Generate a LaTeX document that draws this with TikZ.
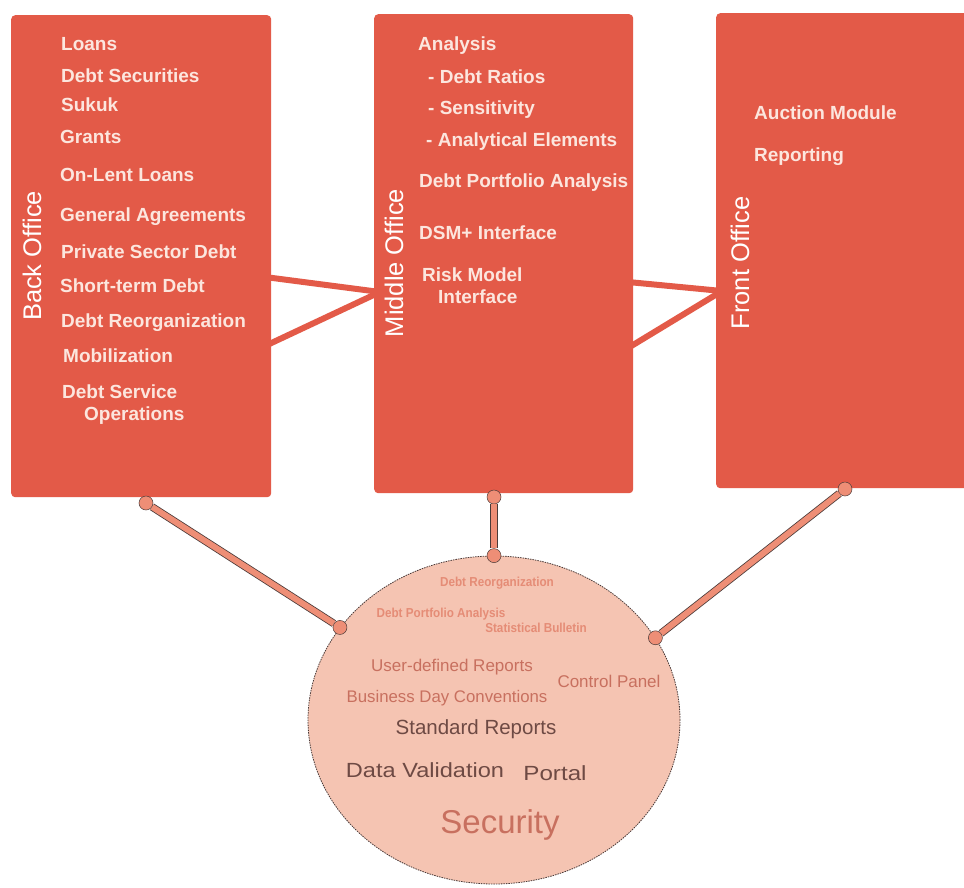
\documentclass[tikz,border=0pt]{standalone}
\usepackage{fontspec}
\setmainfont{Liberation Sans}
\usetikzlibrary{shapes.geometric}
\pgfdeclarelayer{background}
\pgfsetlayers{background,main}
\definecolor{boxred}{HTML}{E35A48}
\definecolor{boxtext}{HTML}{FCE6DE}
\definecolor{hubfill}{HTML}{F5C4B2}
\definecolor{linksalmon}{HTML}{EE8E76}
\definecolor{edgegray}{HTML}{4A3A38}
\definecolor{palesal}{HTML}{E58C76}
\definecolor{medsal}{HTML}{C8705F}
\definecolor{darkbr}{HTML}{6E4A44}
\begin{document}
\begin{tikzpicture}[x=1pt,y=-1pt,
  office/.style={draw=none, fill=boxred, rounded corners=4pt, anchor=north west, inner sep=0pt},
  item/.style={anchor=base west, inner sep=0pt, text=boxtext, font=\fontsize{19}{21}\selectfont\bfseries},
  sidelabel/.style={rotate=90, inner sep=0pt, text=white, font=\fontsize{25.5}{28}\selectfont},
  link/.style={draw=boxred, line width=6pt},
  spoke/.style={draw=edgegray, line width=0.8pt, double=linksalmon, double distance=6pt},
  enddot/.style={circle, fill=linksalmon, draw=edgegray, line width=0.5pt, minimum size=14pt, inner sep=0pt},
  hubtext/.style={inner sep=0pt, anchor=center},
]
\begin{pgfonlayer}{background}
\fill[white] (0,0) rectangle (964,887);
\end{pgfonlayer}
\useasboundingbox (0,0) rectangle (964,887);

% offices
\node[office, minimum width=260pt, minimum height=482pt] (back) at (11,15) {};
\node[office, minimum width=259pt, minimum height=479pt] (middle) at (374,14) {};
\node[office, minimum width=260pt, minimum height=475pt] (front) at (716,13) {};

% links between offices
\coordinate (b1) at (265,277);
\coordinate (b2) at (265,346);
\coordinate (m0) at (380,292);
\coordinate (m1) at (628,282);
\coordinate (m2) at (628,348);
\coordinate (f0) at (722,291);
\begin{pgfonlayer}{background}
\draw[link] (b1) -- (m0);
\draw[link] (b2) -- (m0);
\draw[link] (m1) -- (f0);
\draw[link] (m2) -- (f0);
\end{pgfonlayer}

% side labels
\node[sidelabel] (backlbl) at (32,256) {Back Office};
\node[sidelabel] (midlbl) at (394,263) {Middle Office};
\node[sidelabel] (frontlbl) at (740,263) {Front Office};

% back office items
\node[item] (b-loans) at (61,50) {Loans};
\node[item] (b-debtsec) at (61,82) {Debt Securities};
\node[item] (b-sukuk) at (61,111) {Sukuk};
\node[item] (b-grants) at (60,143) {Grants};
\node[item] (b-onlent) at (60,181) {On-Lent Loans};
\node[item] (b-general) at (60,221) {General Agreements};
\node[item] (b-private) at (61,258) {Private Sector Debt};
\node[item] (b-short) at (60,292) {Short-term Debt};
\node[item] (b-reorg) at (61,327) {Debt Reorganization};
\node[item] (b-mobil) at (63,362) {Mobilization};
\node[item] (b-service) at (62,398) {Debt Service};
\node[item] (b-oper) at (84,420) {Operations};

% middle office items
\node[item] (m-analysis) at (418,50) {Analysis};
\node[item] (m-ratios) at (428,83) {- Debt Ratios};
\node[item] (m-sens) at (428,114) {- Sensitivity};
\node[item] (m-elem) at (426,146) {- Analytical Elements};
\node[item] (m-dpa) at (419,187) {Debt Portfolio Analysis};
\node[item] (m-dsm) at (419,239) {DSM+ Interface};
\node[item] (m-risk) at (422,281) {Risk Model};
\node[item] (m-inter) at (438,303) {Interface};

% front office items
\node[item] (f-auction) at (754,119) {Auction Module};
\node[item] (f-report) at (754,161) {Reporting};

% hub
\node[ellipse, fill=hubfill, draw=edgegray, line width=0.8pt, dash pattern=on 1.5pt off 1pt,
      minimum width=372pt, minimum height=328pt, inner sep=0pt] (hub) at (494,720) {};

% spokes
\node[enddot] (d1) at (146,503) {};
\node[enddot] (d2) at (494,497) {};
\node[enddot] (d3) at (845,489) {};
\node[enddot] (h1) at (hub.149) {};
\node[enddot] (h2) at (hub.90) {};
\node[enddot] (h3) at (hub.27) {};
\draw[spoke] (d1) -- (h1);
\draw[spoke] (d2) -- (h2);
\draw[spoke] (d3) -- (h3);

% hub texts
\node[hubtext, text=palesal, font=\fontsize{13}{14}\selectfont\bfseries] (t-reorg) at (497,583) {\scalebox{0.9}[1]{Debt Reorganization}};
\node[hubtext, text=palesal, font=\fontsize{13}{14}\selectfont\bfseries] (t-dpa) at (441,614) {\scalebox{0.9}[1]{Debt Portfolio Analysis}};
\node[hubtext, text=palesal, font=\fontsize{13}{14}\selectfont\bfseries] (t-stat) at (536,628) {\scalebox{0.9}[1]{Statistical Bulletin}};
\node[hubtext, text=medsal, font=\fontsize{17}{18}\selectfont] (t-user) at (452,667) {User-defined Reports};
\node[hubtext, text=medsal, font=\fontsize{17}{18}\selectfont] (t-control) at (609,681) {Control Panel};
\node[hubtext, text=medsal, font=\fontsize{16.8}{18}\selectfont] (t-bdc) at (447,698) {Business Day Conventions};
\node[hubtext, text=darkbr, font=\fontsize{20.5}{22}\selectfont] (t-std) at (476,729) {Standard Reports};
\node[hubtext, text=darkbr, font=\fontsize{20.5}{22}\selectfont] (t-valid) at (425,770) {\scalebox{1.15}[1]{Data Validation}};
\node[hubtext, text=darkbr, font=\fontsize{20.5}{22}\selectfont] (t-portal) at (555,773) {\scalebox{1.18}[1]{Portal}};
\node[hubtext, text=medsal, font=\fontsize{33}{36}\selectfont] (t-sec) at (500,825) {Security};
\end{tikzpicture}
\end{document}
